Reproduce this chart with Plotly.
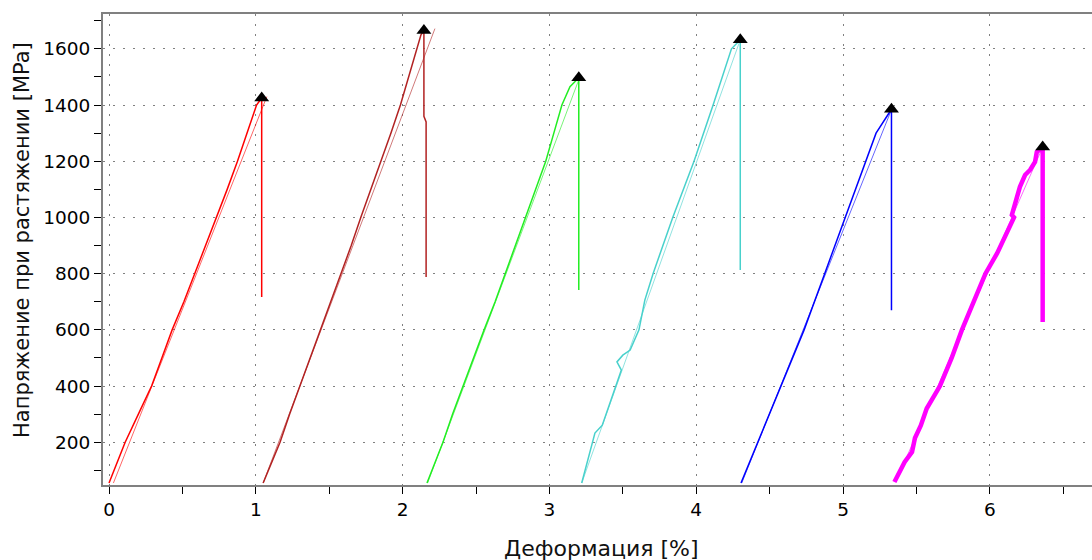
import plotly.graph_objects as go

# Stress-strain curves of six specimens (strain in %, stress in MPa),
# each ends with the drop after rupture.
strain_1 = [0.00, 0.05, 0.11, 0.20, 0.29, 0.36, 0.43, 0.51, 0.585, 0.66, 0.735, 0.805, 0.875, 0.94, 1.005, 1.04, 1.04]
stress_1 = [55, 120, 200, 300, 400, 500, 600, 700, 800, 900, 1000, 1100, 1200, 1300, 1400, 1425, 717]

strain_2 = [1.05, 1.10, 1.165, 1.23, 1.30, 1.37, 1.444, 1.515, 1.585, 1.65, 1.715, 1.785, 1.85, 1.92, 1.985, 2.04, 2.095, 2.125, 2.145, 2.145, 2.16, 2.16]
stress_2 = [55, 120, 200, 300, 400, 500, 600, 700, 800, 900, 1000, 1100, 1200, 1300, 1400, 1500, 1600, 1650, 1665, 1360, 1340, 788]

strain_3 = [2.166, 2.22, 2.275, 2.34, 2.41, 2.48, 2.555, 2.63, 2.70, 2.77, 2.84, 2.91, 2.975, 3.03, 3.085, 3.14, 3.20, 3.20]
stress_3 = [55, 130, 200, 300, 400, 500, 600, 700, 800, 900, 1000, 1100, 1200, 1300, 1400, 1465, 1497, 742]

strain_4 = [3.22, 3.29, 3.31, 3.36, 3.45, 3.49, 3.46, 3.50, 3.55, 3.61, 3.65, 3.706, 3.84, 3.985, 4.115, 4.24, 4.30, 4.30]
stress_4 = [55, 200, 233, 261, 400, 457, 486, 510, 528, 600, 706, 800, 1000, 1200, 1400, 1600, 1632, 813]

strain_5 = [4.305, 4.42, 4.58, 4.735, 4.875, 5.015, 5.15, 5.225, 5.33, 5.33]
stress_5 = [55, 200, 400, 600, 800, 1000, 1200, 1300, 1385, 670]

strain_6 = [5.35, 5.37, 5.42, 5.47, 5.49, 5.53, 5.57, 5.66, 5.74, 5.81, 5.89, 5.97, 6.05, 6.12, 6.165, 6.15, 6.205, 6.24, 6.274, 6.308, 6.32, 6.36, 6.36]
stress_6 = [59, 80, 130, 165, 215, 260, 320, 400, 500, 600, 700, 800, 873, 945, 1000, 1009, 1109, 1151, 1169, 1198, 1233, 1251, 628]

# Linear fits of the elastic region (two end points each)
fit_strain = [[0.03, 1.075], [1.05, 2.22], [2.17, 3.205], [3.22, 4.30], [4.31, 5.335], [5.36, 6.36]]
fit_stress = [[55, 1430], [55, 1672], [55, 1497], [55, 1632], [55, 1390], [60, 1250]]

colors = ["#ff0000", "#b22222", "#22ee22", "#48d1cc", "#0000ff", "#ff00ff"]
widths = [1.5, 1.5, 1.5, 1.5, 1.5, 4.5]

strains = [strain_1, strain_2, strain_3, strain_4, strain_5, strain_6]
stresses = [stress_1, stress_2, stress_3, stress_4, stress_5, stress_6]

x_ticks = [0, 1, 2, 3, 4, 5, 6]
y_ticks = [200, 400, 600, 800, 1000, 1200, 1400, 1600]

fig = go.Figure()

for i in range(6):
    fig.add_trace(go.Scatter(
        x=fit_strain[i], y=fit_stress[i], mode="lines",
        line=dict(color=colors[i], width=1), opacity=0.6,
        hoverinfo="skip", showlegend=False))
    fig.add_trace(go.Scatter(
        x=strains[i], y=stresses[i], mode="lines",
        line=dict(color=colors[i], width=widths[i]),
        showlegend=False))

# Rupture point markers at the maximum stress of every curve
peak_x, peak_y = [], []
for sx, sy in zip(strains, stresses):
    k = max(range(len(sy)), key=lambda j: sy[j])
    peak_x.append(sx[k])
    peak_y.append(sy[k])
fig.add_trace(go.Scatter(
    x=peak_x, y=peak_y, mode="markers",
    marker=dict(symbol="triangle-up", size=13, color="black"),
    showlegend=False))

font = "DejaVu Sans, Verdana, sans-serif"

fig.update_layout(
    width=1092, height=560,
    margin=dict(l=103, r=0, t=14, b=75),
    paper_bgcolor="white", plot_bgcolor="white",
    font=dict(family=font, size=18, color="black"),
    showlegend=False,
    xaxis=dict(
        range=[-0.041, 6.696], tickvals=x_ticks,
        showline=True, linecolor="#808080", linewidth=2, mirror=True,
        ticks="outside", ticklen=7, tickcolor="black", tickwidth=1,
        showgrid=True, gridcolor="#808080", gridwidth=1, griddash="2px,8px",
        zeroline=False,
        minor=dict(dtick=0.5, tick0=0, ticks="outside", ticklen=7,
                   tickcolor="black", showgrid=False),
        tickfont=dict(size=18.5),
    ),
    yaxis=dict(
        range=[48, 1724], tickvals=y_ticks,
        showline=True, linecolor="#808080", linewidth=2,
        ticks="outside", ticklen=7, tickcolor="black", tickwidth=1,
        showgrid=True, gridcolor="#808080", gridwidth=1, griddash="2px,8px",
        zeroline=False,
        minor=dict(dtick=100, tick0=0, ticks="outside", ticklen=7,
                   tickcolor="black", showgrid=False),
        tickfont=dict(size=18.5),
    ),
    annotations=[
        dict(text="Деформация [%]", xref="paper", yref="paper",
             x=(601 - 103) / 989, y=-(548 - 485) / 471,
             xanchor="center", yanchor="middle", showarrow=False,
             font=dict(size=22, color="#111111")),
        dict(text="Напряжение при растяжении [MPa]", xref="paper", yref="paper",
             x=-(103 - 22) / 989, y=(485 - 240) / 471, textangle=-90,
             xanchor="center", yanchor="middle", showarrow=False,
             font=dict(size=21, color="#111111")),
    ],
)

fig.write_html("out.html")
